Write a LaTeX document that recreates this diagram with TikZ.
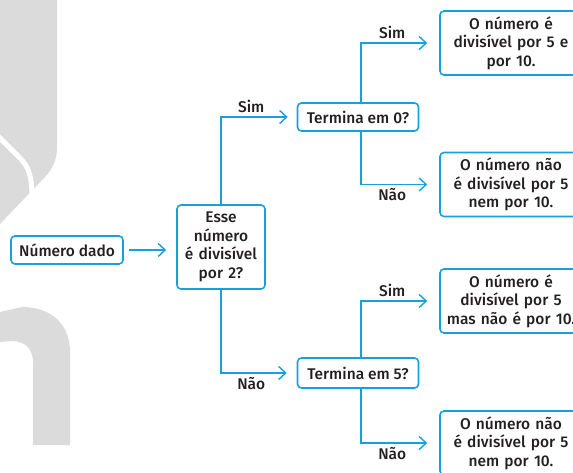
\documentclass[tikz,border=0pt]{standalone}
\usepackage{fontspec}
\setmainfont{Fira Sans}[UprightFont={* Medium}]
\usetikzlibrary{arrows.meta}

\definecolor{fluxo}{RGB}{22,160,222}
\definecolor{marca}{RGB}{219,219,219}
\definecolor{texto}{RGB}{35,31,32}

\tikzset{
  caixa/.style={draw=fluxo, line width=1.6pt, rounded corners=4pt, align=center,
    text=texto, inner sep=2pt},
  resposta/.style={caixa, minimum width=142pt, minimum height=64pt, text width=136pt},
  seta/.style={draw=fluxo, line width=1.4pt, ->},
  rotulo/.style={text=texto, pos=0.7}
}

\begin{document}
\begin{tikzpicture}[x=1pt, y=-1pt, >={Straight Barb[length=7pt,width=13pt]},
    font=\fontsize{15.5}{18.5}\selectfont]
  \useasboundingbox (0,0) rectangle (573,473);
  % marca d'agua cinzenta
  \fill[marca] (0,0) -- (57,0) -- (57,148) .. controls (57,160) and (52,170) .. (45,177) -- (0,224) -- cycle;
  \draw[white, line width=5pt] (-2,136) -- (20,158) .. controls (28,166) and (32,176) .. (32,196);
  \fill[marca] (0,312) -- (22,307) .. controls (52,307) and (70,325) .. (70,352) -- (70,445)
    -- (33,445) -- (33,362) .. controls (33,349) and (25,341) .. (12,341) -- (0,342) -- cycle;

  % caixas
  \node[caixa, minimum width=112pt, minimum height=28pt] (dado) at (67,250) {Número dado};
  \node[caixa, minimum width=88pt, minimum height=84pt, text width=84pt] (par) at (221,247)
    {Esse\\número\\é divisível\\por 2?};
  \node[caixa, minimum width=121pt, minimum height=28pt] (t0) at (358,117) {Termina em 0?};
  \node[caixa, minimum width=121pt, minimum height=30pt] (t5) at (358,373) {Termina em 5?};
  \node[resposta] (r1) at (511,43) {O número é\\divisível por 5 e\\por 10.};
  \node[resposta] (r2) at (511,184.5) {O número não\\é divisível por 5\\nem por 10.};
  \node[resposta] (r3) at (511,301) {O número é\\divisível por 5\\mas não é por 10.};
  \node[resposta] (r4) at (511,443) {O número não\\é divisível por 5\\nem por 10.};

  % setas
  \draw[seta, shorten <=5pt, shorten >=10pt] (dado.east) -- (dado.east -| par.west);
  \draw[seta, shorten >=9pt] (par.north) |- node[rotulo, above]{Sim} (t0.west);
  \draw[seta, shorten >=10pt] (par.south) |- node[rotulo, below]{Não} (t5.west);
  \draw[seta, shorten >=12pt] ([xshift=3pt]t0.north) |- node[rotulo, above]{Sim} (r1.west);
  \draw[seta, shorten >=12pt] ([xshift=3pt]t0.south) |- node[rotulo, below]{Não} (r2.west);
  \draw[seta, shorten >=12pt] ([xshift=3pt]t5.north) |- node[rotulo, above]{Sim} (r3.west);
  \draw[seta, shorten >=12pt] ([xshift=3pt]t5.south) |- node[rotulo, below]{Não} (r4.west);
\end{tikzpicture}
\end{document}
